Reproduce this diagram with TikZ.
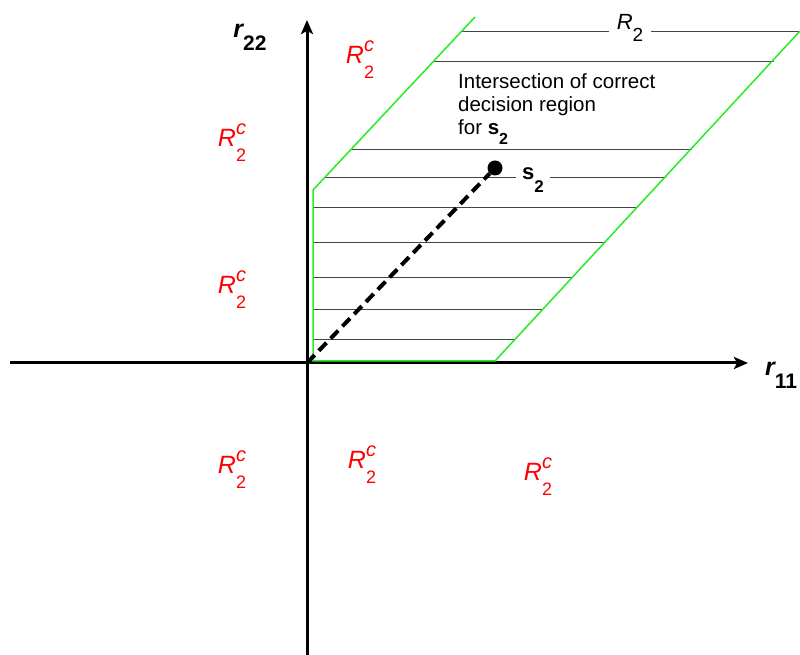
\documentclass[tikz,border=0pt]{standalone}
\usepackage{fontspec}
\setmainfont{Liberation Sans}
\usetikzlibrary{arrows.meta}
\definecolor{regiongreen}{RGB}{40,235,40}
\definecolor{hatchgray}{RGB}{70,70,70}
\newcommand{\Rtc}{{\fontsize{25}{28}\selectfont\itshape R}\makebox[0pt][l]{\raisebox{12pt}{\fontsize{20}{20}\selectfont\itshape c}}\raisebox{-15pt}{\fontsize{18}{18}\selectfont 2}}
\newcommand{\Rt}{{\fontsize{22}{24}\selectfont\itshape R}\raisebox{-12pt}{\fontsize{19}{19}\selectfont 2}}
\newcommand{\raxis}[1]{{\fontsize{25}{28}\selectfont\bfseries\itshape r}\raisebox{-13pt}{\fontsize{21}{21}\selectfont\bfseries #1}}

\begin{document}
\begin{tikzpicture}[x=1pt,y=1pt,
  axis/.style={line width=3pt,-{Stealth[length=14pt,width=12pt,inset=3pt]}},
  region/.style={regiongreen,line width=1.5pt},
  hatch/.style={hatchgray,line width=0.9pt},
  rlab/.style={red,inner sep=0pt}]
\useasboundingbox (-307,-292) rectangle (493,363);
% axes
\coordinate (O) at (0,0);
\coordinate (xl) at (-297,0);
\coordinate (xr) at (441,0);
\coordinate (yb) at (0,-292);
\coordinate (yt) at (0,343);
\draw[axis] (xl) -- (xr);
\draw[axis] (yb) -- (yt);
\node[inner sep=0pt] (r11) at (474,-12) {\raxis{11}};
\node[inner sep=0pt] (r22) at (-57,326) {\raxis{22}};
% hatched region
\begin{scope}
\clip (6,2) -- (188,2) -- (512,350) -- (171,350) -- (6,173) -- cycle;
\foreach \h in {24,54,86,121,156,186,214,302,332}
  \draw[hatch] (0,\h) -- (520,\h);
\end{scope}
\draw[region] (168,346) -- (6,173) -- (6,2) -- (188,2) -- (493,332);
\node[fill=white,inner xsep=8pt,inner ysep=3pt] (R2) at (323,335) {\Rt};
\node[anchor=north west,align=left,inner sep=0pt,font=\fontsize{20.5}{23}\selectfont] (note) at (151,290)
  {Intersection of correct\\decision region\\for \textbf{s}\raisebox{-10pt}{\fontsize{16}{16}\selectfont\bfseries 2}};
% signal point
\node[circle,fill=black,inner sep=0pt,minimum size=15pt] (s2) at (188,195) {};
\draw[line width=4pt,dash pattern=on 11pt off 6pt] (O) -- (s2);
\node[fill=white,inner xsep=6pt,inner ysep=4pt] (s2lab) at (226,183)
  {{\fontsize{22}{24}\selectfont\bfseries s}\raisebox{-13pt}{\fontsize{17}{17}\selectfont\bfseries 2}};
% complement regions
\node[rlab] (c1) at (53,303) {\Rtc};
\node[rlab] (c2) at (-75,220) {\Rtc};
\node[rlab] (c3) at (-75,73) {\Rtc};
\node[rlab] (c4) at (-75,-107) {\Rtc};
\node[rlab] (c5) at (55,-102) {\Rtc};
\node[rlab] (c6) at (231,-114) {\Rtc};
\end{tikzpicture}
\end{document}
